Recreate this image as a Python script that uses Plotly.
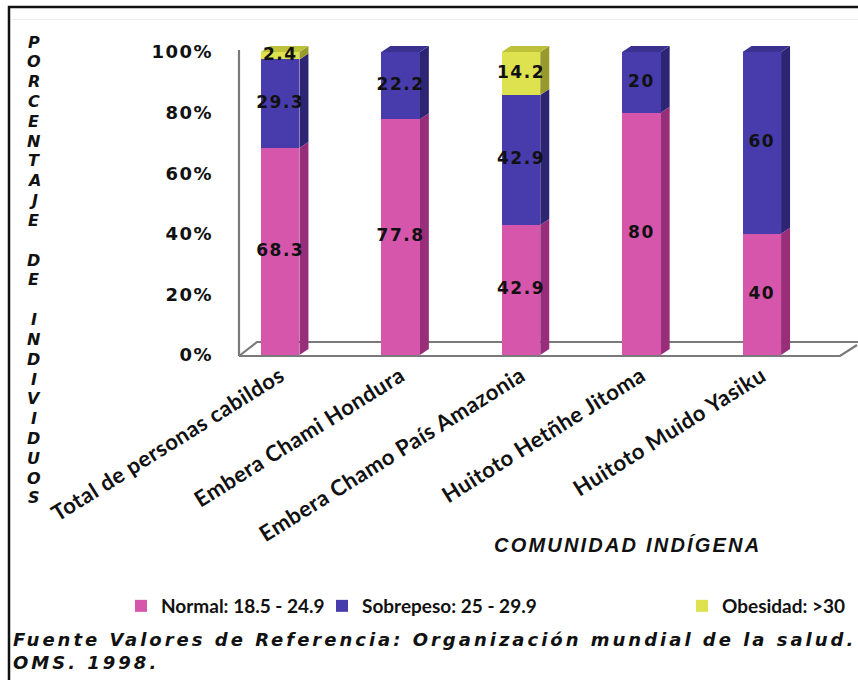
import plotly.graph_objects as go

# ---------------- data ----------------
categories = ["Total de personas cabildos", "Embera Chami Hondura",
              "Embera Chamo País Amazonia", "Huitoto Hetñhe Jitoma",
              "Huitoto Muido Yasiku"]
normal = [68.3, 77.8, 42.9, 80, 40]
sobrepeso = [29.3, 22.2, 42.9, 20, 60]
obesidad = [2.4, 0, 14.2, 0, 0]
series_names = ["Normal: 18.5 - 24.9", "Sobrepeso: 25 - 29.9", "Obesidad: >30"]
y_tick_vals = [0, 20, 40, 60, 80, 100]
y_tick_text = ["0%", "20%", "40%", "60%", "80%", "100%"]
y_title = "PORCENTAJE DE INDIVIDUOS"
x_title = "COMUNIDAD INDÍGENA"
footer_bold = "Fuente Valores de Referencia:"
footer_rest = "Organización mundial de la salud."
footer_line2 = "OMS. 1998."

# ---------------- layout constants ----------------
W, H = 858, 680
L, R, T, B = 220, 36, 40, 322
YMIN, YMAX = -1, 104
front_colors = ["#D656AC", "#483CAC", "#DDE24E"]
side_colors = ["#982E7A", "#2D2574", "#989A2C"]
top_colors = ["#B84596", "#3A3190", "#BDC23A"]
legend_text_x = [161, 362, 722]   # pixel x where each legend text starts
BAR_W = 0.32
px_x = (W - L - R) / len(categories)
px_y = (H - T - B) / (YMAX - YMIN)
DX = 9 / px_x
DY = 6 / px_y


def pxx(p):
    return (p - L) / (W - L - R)


def pxy(p):
    return (H - B - p) / (H - T - B)


def spaced(s, sp):
    return '<span style="letter-spacing:%spx">%s</span>' % (sp, s)


series = [normal, sobrepeso, obesidad]
legend_ids = ["legend", "legend2", "legend3"]

fig = go.Figure()
for vals, name, col, lid in zip(series, series_names, front_colors, legend_ids):
    fig.add_trace(go.Bar(x=categories, y=vals, name=name, width=BAR_W,
                         marker=dict(color=col, line=dict(width=0)),
                         legend=lid, hoverinfo="y+name"))

# labels at segment centres
lx, ly, lt = [], [], []
for i, c in enumerate(categories):
    base = 0
    for vals in series:
        v = vals[i]
        if v > 0:
            lx.append(c)
            ly.append(base + v / 2)
            lt.append(spaced(f"{v:g}", 1.5))
        base += v
fig.add_trace(go.Scatter(x=lx, y=ly, text=lt, mode="text", showlegend=False,
                         hoverinfo="skip",
                         textfont=dict(family="DejaVu Sans", size=17,
                                       weight="bold", color="#111")))

shapes = []
# outer frame
shapes.append(dict(type="rect", xref="paper", yref="paper",
                   x0=pxx(9), x1=pxx(880), y0=pxy(700), y1=pxy(7),
                   line=dict(color="#111", width=2.5), layer="below"))
shapes.append(dict(type="line", xref="paper", yref="paper",
                   x0=pxx(12), x1=pxx(858), y0=pxy(19.5), y1=pxy(19.5),
                   line=dict(color="#ececec", width=1), layer="below"))
# wall + floor
grey = dict(color="#7a7a7a", width=2.2)
shapes.append(dict(type="line", xref="paper", yref="paper",
                   x0=pxx(239), x1=pxx(239), y0=pxy(356), y1=pxy(50),
                   line=grey, layer="below"))
shapes.append(dict(type="path", xref="paper", yref="paper", layer="below",
                   path="M %f,%f L %f,%f L %f,%f" % (
                       pxx(239), pxy(356), pxx(840), pxy(356),
                       pxx(857), pxy(345)),
                   line=grey))
shapes.append(dict(type="path", xref="paper", yref="paper", layer="below",
                   path="M %f,%f L %f,%f L %f,%f" % (
                       pxx(239), pxy(356), pxx(257), pxy(342),
                       pxx(880), pxy(342)),
                   line=grey))

# 3D side and top faces, computed from data
for i in range(len(categories)):
    xl = i - BAR_W / 2
    xr = i + BAR_W / 2
    base = 0
    top_idx = None
    for k, vals in enumerate(series):
        v = vals[i]
        if v <= 0:
            continue
        y0, y1 = base, base + v
        shapes.append(dict(type="path", xref="x", yref="y", layer="below",
                           path="M %f,%f L %f,%f L %f,%f L %f,%f Z" % (
                               xr, y0, xr + DX, y0 + DY, xr + DX, y1 + DY, xr, y1),
                           fillcolor=side_colors[k], line=dict(width=0)))
        base = y1
        top_idx = k
    if top_idx is not None:
        shapes.append(dict(type="path", xref="x", yref="y", layer="below",
                           path="M %f,%f L %f,%f L %f,%f L %f,%f Z" % (
                               xl, base, xl + DX, base + DY, xr + DX, base + DY, xr, base),
                           fillcolor=top_colors[top_idx], line=dict(width=0)))

annotations = []
# vertical stacked y-axis title, one letter per line
y_first, y_last = 42, 498
step = (y_last - y_first) / (len(y_title) - 1)
for j, ch in enumerate(y_title):
    if ch == " ":
        continue
    annotations.append(dict(xref="paper", yref="paper", x=pxx(34),
                            y=pxy(y_first + j * step), xanchor="center",
                            yanchor="middle", showarrow=False, text=ch,
                            font=dict(family="DejaVu Sans", size=16,
                                      weight="bold", style="italic",
                                      color="#111")))
annotations.append(dict(xref="paper", yref="paper", x=pxx(627), y=pxy(545),
                        xanchor="center", yanchor="middle", showarrow=False,
                        text=spaced(x_title, 2.2),
                        font=dict(family="Liberation Sans", size=20,
                                  weight="bold", style="italic", color="#111")))
annotations.append(dict(xref="paper", yref="paper", x=pxx(11), y=pxy(627),
                        xanchor="left", yanchor="top", showarrow=False,
                        align="left",
                        text=spaced("%s %s<br>%s" % (footer_bold, footer_rest,
                                                      footer_line2), 3.0),
                        font=dict(family="DejaVu Sans", size=18, weight="bold",
                                  style="italic", color="#111")))

leg_common = dict(orientation="h", xref="paper", yref="paper", y=pxy(606),
                  yanchor="middle", xanchor="left", itemwidth=30,
                  bgcolor="rgba(0,0,0,0)",
                  font=dict(family="Lato", size=19, weight="bold",
                            color="#111"))
legends = {}
for lid, tx in zip(legend_ids, legend_text_x):
    legends[lid] = dict(leg_common, x=pxx(tx - 40))

fig.update_layout(
    width=W, height=H, margin=dict(l=L, r=R, t=T, b=B, autoexpand=False),
    barmode="stack", bargap=0.5,
    paper_bgcolor="white", plot_bgcolor="white",
    shapes=shapes, annotations=annotations,
    showlegend=True,
    xaxis=dict(type="category", range=[-0.5, 4.5], showgrid=False,
               showline=False, zeroline=False, ticks="", tickangle=-32,
               tickvals=categories,
               ticktext=[spaced(c, 0.5) for c in categories],
               tickfont=dict(family="Lato", size=22, weight="bold",
                             color="#111")),
    yaxis=dict(range=[YMIN, YMAX], tickvals=y_tick_vals,
               ticktext=[spaced(t, 1.5) for t in y_tick_text],
               showgrid=False, showline=False, zeroline=False, ticks="",
               ticklabelstandoff=6,
               tickfont=dict(family="DejaVu Sans", size=18, weight="bold",
                             color="#111")),
    **legends,
)

fig.write_html("out.html")
